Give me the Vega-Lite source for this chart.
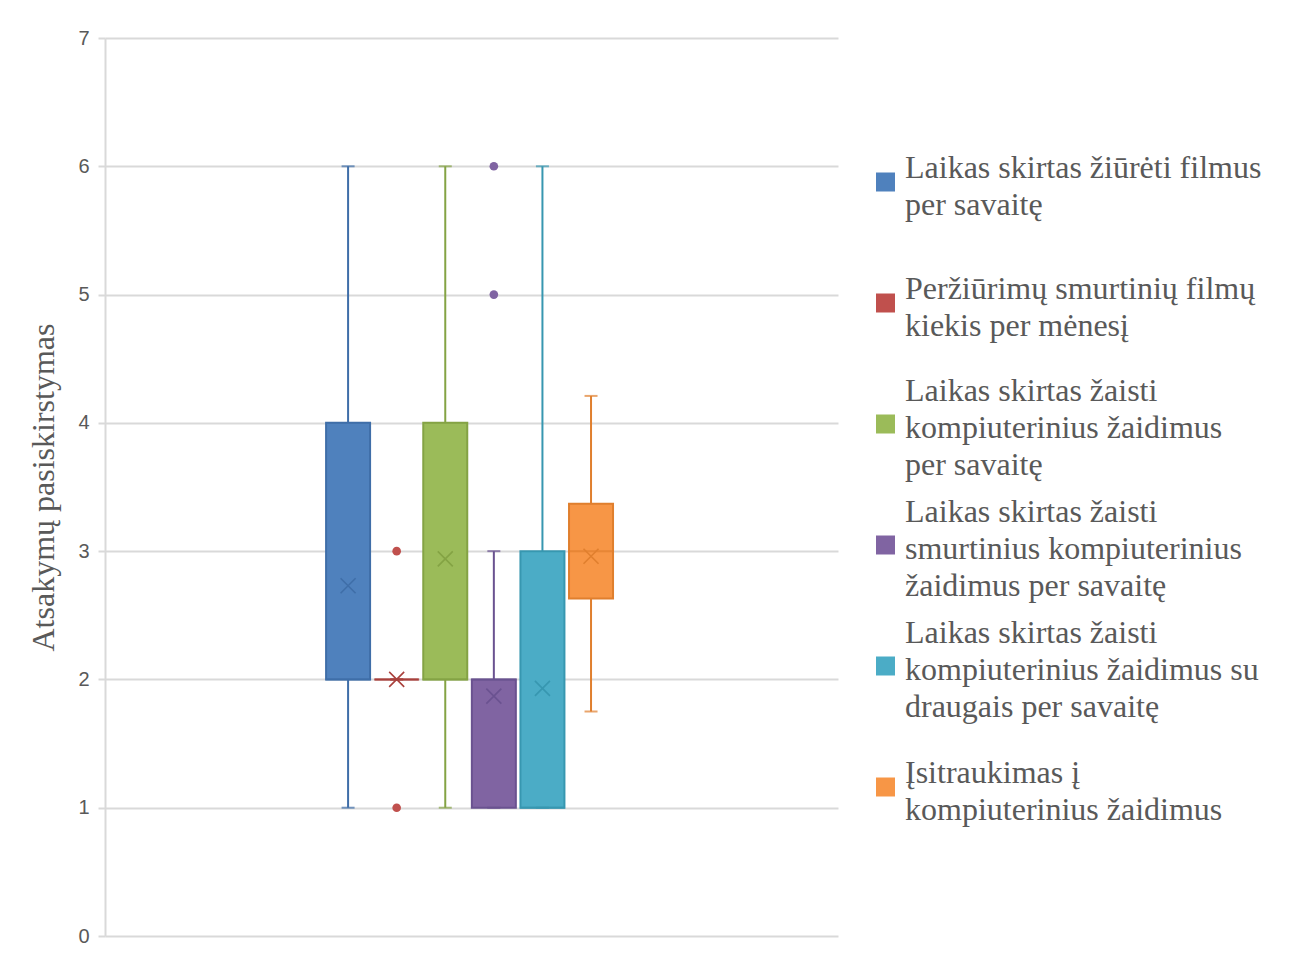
{
  "$schema": "https://vega.github.io/schema/vega-lite/v6.json",
  "width": 733,
  "height": 898,
  "autosize": {"type": "none"},
  "padding": {"left": 105, "top": 38, "right": 461, "bottom": 24},
  "background": "white",
  "config": {"view": {"stroke": null}},
  "datasets": {
    "boxes": [
      {"i": 1, "s": "Laikas skirtas žiūrėti filmus\nper savaitę", "lo": 1, "q1": 2, "med": 2, "q3": 4, "hi": 6, "mean": 2.73},
      {"i": 2, "s": "Peržiūrimų smurtinių filmų\nkiekis per mėnesį", "lo": 2, "q1": 2, "med": 2, "q3": 2, "hi": 2, "mean": 2.0},
      {"i": 3, "s": "Laikas skirtas žaisti\nkompiuterinius žaidimus\nper savaitę", "lo": 1, "q1": 2, "med": 2, "q3": 4, "hi": 6, "mean": 2.94},
      {"i": 4, "s": "Laikas skirtas žaisti\nsmurtinius kompiuterinius\nžaidimus per savaitę", "lo": 1, "q1": 1, "med": 2, "q3": 2, "hi": 3, "mean": 1.87},
      {"i": 5, "s": "Laikas skirtas žaisti\nkompiuterinius žaidimus su\ndraugais per savaitę", "lo": 1, "q1": 1, "med": 1, "q3": 3, "hi": 6, "mean": 1.93},
      {"i": 6, "s": "Įsitraukimas į\nkompiuterinius žaidimus", "lo": 1.75, "q1": 2.63, "med": 3, "q3": 3.37, "hi": 4.21, "mean": 2.96}
    ],
    "outliers": [
      {"i": 2, "s": "Peržiūrimų smurtinių filmų\nkiekis per mėnesį", "v": 3},
      {"i": 2, "s": "Peržiūrimų smurtinių filmų\nkiekis per mėnesį", "v": 1},
      {"i": 4, "s": "Laikas skirtas žaisti\nsmurtinius kompiuterinius\nžaidimus per savaitę", "v": 5},
      {"i": 4, "s": "Laikas skirtas žaisti\nsmurtinius kompiuterinius\nžaidimus per savaitę", "v": 6}
    ]
  },
  "resolve": {"scale": {"fill": "independent"}},
  "encoding": {
    "x": {
      "field": "i",
      "type": "quantitative",
      "scale": {"domain": [-3.9, 10.98], "nice": false, "zero": false},
      "axis": null
    }
  },
  "layer": [
    {
      "data": {"name": "boxes"},
      "mark": {"type": "rule", "strokeWidth": 2},
      "encoding": {
        "y": {
          "field": "lo",
          "type": "quantitative",
          "scale": {"domain": [0, 7], "nice": false, "zero": true},
          "axis": {
            "values": [0, 1, 2, 3, 4, 5, 6, 7],
            "format": "d",
            "grid": true,
            "gridColor": "#d9d9d9",
            "gridWidth": 2,
            "domainColor": "#d9d9d9",
            "domainWidth": 2,
            "tickColor": "#d9d9d9",
            "tickWidth": 2,
            "tickSize": 7,
            "labelFont": "Liberation Sans",
            "labelFontSize": 20,
            "labelColor": "#595959",
            "labelPadding": 9,
            "title": "Atsakymų pasiskirstymas",
            "titleFont": "Liberation Serif",
            "titleFontSize": 32,
            "titleFontWeight": "normal",
            "titleColor": "#595959",
            "titlePadding": 17
          }
        },
        "y2": {"field": "hi"},
        "stroke": {
          "field": "s",
          "type": "nominal",
          "scale": {
            "domain": [
              "Laikas skirtas žiūrėti filmus\nper savaitę",
              "Peržiūrimų smurtinių filmų\nkiekis per mėnesį",
              "Laikas skirtas žaisti\nkompiuterinius žaidimus\nper savaitę",
              "Laikas skirtas žaisti\nsmurtinius kompiuterinius\nžaidimus per savaitę",
              "Laikas skirtas žaisti\nkompiuterinius žaidimus su\ndraugais per savaitę",
              "Įsitraukimas į\nkompiuterinius žaidimus"
            ],
            "range": ["#3f6ea8", "#a9403c", "#84a344", "#6a5290", "#3797b0", "#e07f2e"]
          },
          "legend": null
        }
      }
    },
    {
      "data": {"name": "boxes"},
      "mark": {"type": "bar", "strokeWidth": 2, "width": 44},
      "encoding": {
        "y": {"field": "q1", "type": "quantitative"},
        "y2": {"field": "q3"},
        "fill": {
          "field": "s",
          "type": "nominal",
          "scale": {
            "domain": [
              "Laikas skirtas žiūrėti filmus\nper savaitę",
              "Peržiūrimų smurtinių filmų\nkiekis per mėnesį",
              "Laikas skirtas žaisti\nkompiuterinius žaidimus\nper savaitę",
              "Laikas skirtas žaisti\nsmurtinius kompiuterinius\nžaidimus per savaitę",
              "Laikas skirtas žaisti\nkompiuterinius žaidimus su\ndraugais per savaitę",
              "Įsitraukimas į\nkompiuterinius žaidimus"
            ],
            "range": ["#4f81bd", "#c0504d", "#9bbb59", "#8064a2", "#4bacc6", "#f79646"]
          },
          "legend": {
            "orient": "none",
            "direction": "vertical",
            "columns": 1,
            "legendX": 758,
            "legendY": 121.5,
            "title": null,
            "padding": 0,
            "symbolType": "square",
            "symbolSize": 361,
            "symbolOffset": 0,
            "symbolStrokeColor": "transparent",
            "symbolStrokeWidth": 25.5,
            "symbolOpacity": 1,
            "labelFont": "Liberation Serif",
            "labelFontSize": 32,
            "labelColor": "#595959",
            "labelLimit": 600,
            "labelOffset": -3,
            "labelExpr": "split(datum.label, '\\n')",
            "rowPadding": 0,
            "gridAlign": "all",
            "encode": {
              "labels": {
                "update": {
                  "lineHeight": {"value": 37},
                  "dy": {"signal": "4 - (length(split(datum.label, '\\n')) - 1) * 18.5"}
                }
              }
            }
          }
        },
        "stroke": {"field": "s", "type": "nominal", "legend": null}
      }
    },
    {
      "data": {"name": "boxes"},
      "mark": {"type": "tick", "orient": "horizontal", "size": 13, "thickness": 2},
      "encoding": {
        "y": {"field": "lo", "type": "quantitative"},
        "fill": {
          "field": "s",
          "type": "nominal",
          "scale": {
            "domain": [
              "Laikas skirtas žiūrėti filmus\nper savaitę",
              "Peržiūrimų smurtinių filmų\nkiekis per mėnesį",
              "Laikas skirtas žaisti\nkompiuterinius žaidimus\nper savaitę",
              "Laikas skirtas žaisti\nsmurtinius kompiuterinius\nžaidimus per savaitę",
              "Laikas skirtas žaisti\nkompiuterinius žaidimus su\ndraugais per savaitę",
              "Įsitraukimas į\nkompiuterinius žaidimus"
            ],
            "range": ["#3f6ea8", "#a9403c", "#84a344", "#6a5290", "#3797b0", "#e07f2e"]
          },
          "legend": null
        }
      }
    },
    {
      "data": {"name": "boxes"},
      "mark": {"type": "tick", "orient": "horizontal", "size": 13, "thickness": 2},
      "encoding": {
        "y": {"field": "hi", "type": "quantitative"},
        "fill": {
          "field": "s",
          "type": "nominal",
          "scale": {
            "domain": [
              "Laikas skirtas žiūrėti filmus\nper savaitę",
              "Peržiūrimų smurtinių filmų\nkiekis per mėnesį",
              "Laikas skirtas žaisti\nkompiuterinius žaidimus\nper savaitę",
              "Laikas skirtas žaisti\nsmurtinius kompiuterinius\nžaidimus per savaitę",
              "Laikas skirtas žaisti\nkompiuterinius žaidimus su\ndraugais per savaitę",
              "Įsitraukimas į\nkompiuterinius žaidimus"
            ],
            "range": ["#3f6ea8", "#a9403c", "#84a344", "#6a5290", "#3797b0", "#e07f2e"]
          },
          "legend": null
        }
      }
    },
    {
      "data": {"name": "boxes"},
      "mark": {"type": "tick", "orient": "horizontal", "size": 45, "thickness": 2},
      "encoding": {
        "y": {"field": "med", "type": "quantitative"},
        "fill": {
          "field": "s",
          "type": "nominal",
          "scale": {
            "domain": [
              "Laikas skirtas žiūrėti filmus\nper savaitę",
              "Peržiūrimų smurtinių filmų\nkiekis per mėnesį",
              "Laikas skirtas žaisti\nkompiuterinius žaidimus\nper savaitę",
              "Laikas skirtas žaisti\nsmurtinius kompiuterinius\nžaidimus per savaitę",
              "Laikas skirtas žaisti\nkompiuterinius žaidimus su\ndraugais per savaitę",
              "Įsitraukimas į\nkompiuterinius žaidimus"
            ],
            "range": ["#3f6ea8", "#a9403c", "#84a344", "#6a5290", "#3797b0", "#e07f2e"]
          },
          "legend": null
        }
      }
    },
    {
      "data": {"name": "boxes"},
      "mark": {"type": "point", "shape": "M-1,-1L1,1M-1,1L1,-1", "filled": false, "size": 225, "strokeWidth": 1.6, "opacity": 1},
      "encoding": {
        "y": {"field": "mean", "type": "quantitative"},
        "stroke": {"field": "s", "type": "nominal", "legend": null}
      }
    },
    {
      "data": {"name": "outliers"},
      "mark": {"type": "point", "shape": "circle", "filled": true, "size": 75, "opacity": 1},
      "encoding": {
        "y": {"field": "v", "type": "quantitative"},
        "fill": {
          "field": "s",
          "type": "nominal",
          "scale": {
            "domain": [
              "Laikas skirtas žiūrėti filmus\nper savaitę",
              "Peržiūrimų smurtinių filmų\nkiekis per mėnesį",
              "Laikas skirtas žaisti\nkompiuterinius žaidimus\nper savaitę",
              "Laikas skirtas žaisti\nsmurtinius kompiuterinius\nžaidimus per savaitę",
              "Laikas skirtas žaisti\nkompiuterinius žaidimus su\ndraugais per savaitę",
              "Įsitraukimas į\nkompiuterinius žaidimus"
            ],
            "range": ["#4f81bd", "#c0504d", "#9bbb59", "#8064a2", "#4bacc6", "#f79646"]
          },
          "legend": null
        }
      }
    }
  ]
}
